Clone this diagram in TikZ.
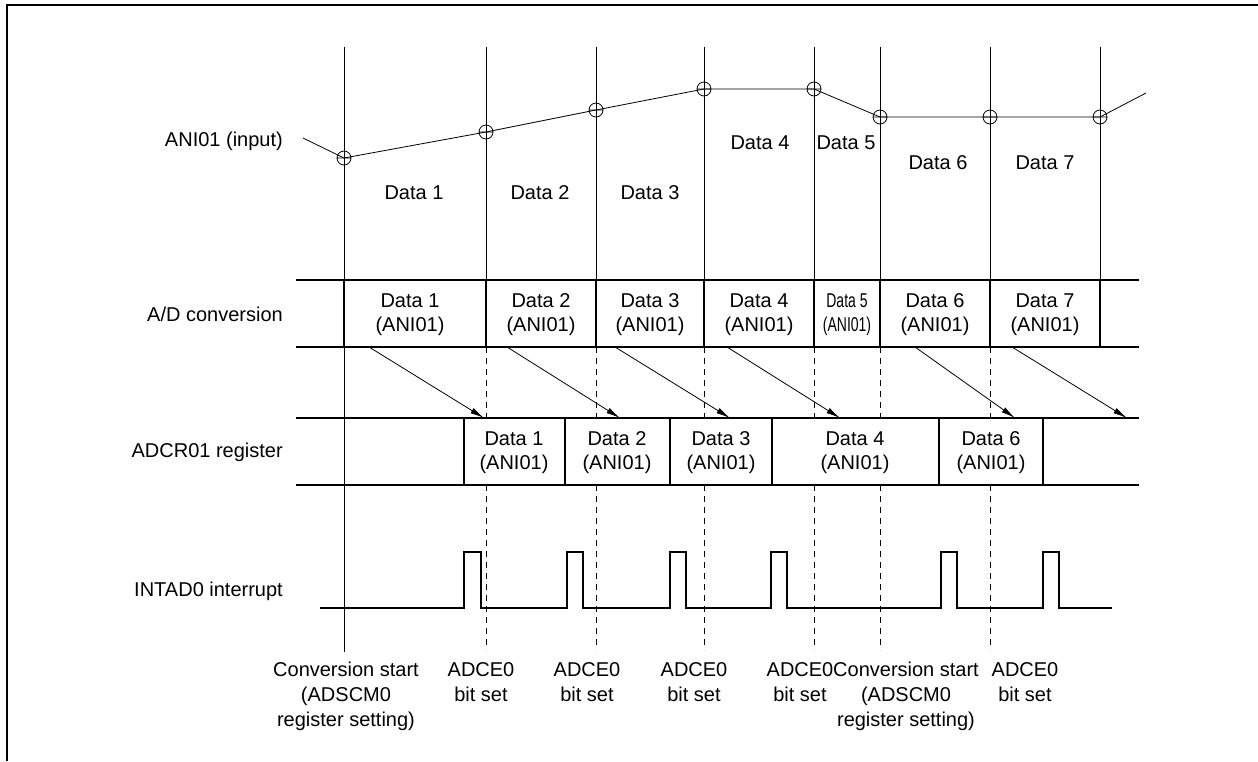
\documentclass[tikz,border=0pt]{standalone}
\usepackage{fontspec}
\setmainfont{Liberation Sans}
\usepackage{graphicx}
\usetikzlibrary{arrows.meta}

\begin{document}
\begin{tikzpicture}[x=1pt, y=-1pt,
  lbl/.style={font=\fontsize{20}{24}\selectfont, inner sep=0pt},
  rowlbl/.style={lbl, anchor=east},
  cell/.style={lbl, align=center},
  note/.style={font=\fontsize{20}{25}\selectfont, inner sep=0pt, align=center, anchor=north},
  guide/.style={line width=0.8pt},
  sync/.style={guide, dash pattern=on 6pt off 5pt},
  bus/.style={line width=2pt},
  pulse/.style={line width=2.4pt},
  arr/.style={-{Latex[length=14pt,width=6pt]}, line width=0.8pt}
]
\useasboundingbox (0,0) rectangle (1258,761);
\draw[line width=2.5pt] (7,761) -- (7,5) -- (1258,5);

% timing guides
\draw[guide] (344,47) -- (344,652);
\foreach \x in {486,596,704,814,880,990} {
  \draw[guide] (\x,47) -- (\x,280);
  \draw[sync] (\x,347) -- (\x,418);
  \draw[sync] (\x,485) -- (\x,650);
}
\draw[guide] (1100,47) -- (1100,280);

% row names
\node[rowlbl] (ani) at (283,141) {ANI01 (input)};
\node[rowlbl] (adc) at (283,314) {A/D conversion};
\node[rowlbl] (adcr) at (283,452) {ADCR01 register};
\node[rowlbl] (intad) at (283,591) {INTAD0 interrupt};

% input signal and sample points
\foreach \x/\y [count=\i] in {344/158,486/132,596/110,704/89,814/89,880/117,990/117,1100/117}
  \coordinate (s\i) at (\x,\y);
\coordinate (sin) at (303,138);
\coordinate (sout) at (1146,93);
\draw[guide] (sin) -- (s1) -- (s2) -- (s3) -- (s4) -- (s5) -- (s6) -- (s7) -- (s8) -- (sout);
\foreach \i in {1,...,8}
  \draw[guide] (s\i) circle (7pt) ++(-7,0) -- ++(14,0);

\node[lbl] (in1) at (414,193) {Data 1};
\node[lbl] (in2) at (540,193) {Data 2};
\node[lbl] (in3) at (650,193) {Data 3};
\node[lbl] (in4) at (760,143) {Data 4};
\node[lbl] (in5) at (846,143) {Data 5};
\node[lbl] (in6) at (938,163) {Data 6};
\node[lbl] (in7) at (1045,163) {Data 7};

% A/D conversion
\draw[bus] (296,280) -- (1139,280) (296,347) -- (1139,347);
\foreach \x in {344,486,596,704,814,880,990,1100}
  \draw[bus] (\x,280) -- (\x,347);
\node[cell] (ad1) at (410,315) {Data 1\\(ANI01)};
\node[cell] (ad2) at (541,315) {Data 2\\(ANI01)};
\node[cell] (ad3) at (650,315) {Data 3\\(ANI01)};
\node[cell] (ad4) at (759,315) {Data 4\\(ANI01)};
\node[cell] (ad5) at (847,315) {\scalebox{0.7}[1]{Data 5}\\\scalebox{0.7}[1]{(ANI01)}};
\node[cell] (ad6) at (935,315) {Data 6\\(ANI01)};
\node[cell] (ad7) at (1045,315) {Data 7\\(ANI01)};

% transfers to register
\foreach \a/\b [count=\i] in {369/484,507/620,615/730,727/840,915/1015,1012/1127} {
  \coordinate (from\i) at (\a,347);
  \coordinate (to\i) at (\b,418);
  \draw[arr] (from\i) -- (to\i);
}

% ADCR01 register
\draw[bus] (296,418) -- (1139,418) (296,485) -- (1139,485);
\foreach \x in {464,565,670,772,939,1043}
  \draw[bus] (\x,418) -- (\x,485);
\node[cell] (r1) at (514,453) {Data 1\\(ANI01)};
\node[cell] (r2) at (617,453) {Data 2\\(ANI01)};
\node[cell] (r3) at (721,453) {Data 3\\(ANI01)};
\node[cell] (r4) at (855,453) {Data 4\\(ANI01)};
\node[cell] (r6) at (991,453) {Data 6\\(ANI01)};

% INTAD0
\draw[pulse] (320,608) -| (464,552) -| (481,608) -| (567,552) -| (583,608)
  -| (670,552) -| (686,608) -| (771,552) -| (787,608) -| (941,552)
  -| (957,608) -| (1043,552) -| (1059,608) -- (1112,608);

% triggers
\node[note] (cs1) at (346,662) {Conversion start\\(ADSCM0\\register setting)};
\node[note] (b1) at (481,662) {ADCE0\\bit set};
\node[note] (b2) at (587,662) {ADCE0\\bit set};
\node[note] (b3) at (694,662) {ADCE0\\bit set};
\node[note] (b4) at (800,662) {ADCE0\\bit set};
\node[note] (cs2) at (906,662) {Conversion start\\(ADSCM0\\register setting)};
\node[note] (b5) at (1025,662) {ADCE0\\bit set};
\end{tikzpicture}
\end{document}
